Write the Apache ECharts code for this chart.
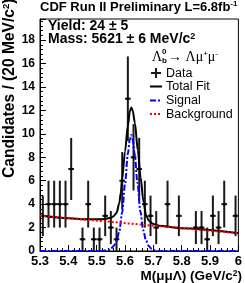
<!DOCTYPE html>
<html><head><meta charset="utf-8">
<script src="https://cdn.jsdelivr.net/npm/echarts@6/dist/echarts.min.js"></script>
<style>html,body{margin:0;padding:0;background:#fff}#c{width:245px;height:283px}</style>
</head><body><div id="c"></div>
<script>
// Data histogram: bin centers (20 MeV bins), counts and their errors
const binCenters = [5.31,5.33,5.35,5.37,5.39,5.41,5.43,5.45,5.47,5.49,5.51,5.53,5.55,5.57,5.59,5.61,5.63,5.65,5.67,5.69,5.71,5.73,5.75,5.77,5.79,5.81,5.83,5.85,5.87,5.89,5.91,5.93,5.95,5.97,5.99];
const counts     = [3,4,4,4,4,7,0,1,4,1,1,3,2,1,6,13,8,7,4,3,2,0,4,0,3,0,0,2,2,1,3,2,4,0,3];
const countErrs  = [1.73,2,2,2,2,2.65,0,1,2,1,1,1.73,1.41,1,2.45,3.61,2.83,2.65,2,1.73,1.41,0,2,0,1.73,0,0,1.41,1.41,1,1.73,1.41,2,0,1.73];
const halfBin = 0.01;

// Total fit curve
const totalMass = [5.30,5.40,5.46,5.50,5.53,5.55,5.56,5.57,5.58,5.585,5.59,5.60,5.61,5.617,5.622,5.627,5.635,5.645,5.655,5.665,5.675,5.685,5.70,5.72,5.80,6.00];
const totalVals = [3.02,2.80,2.70,2.70,2.74,2.84,2.97,3.25,4.1,5.0,6.2,8.5,10.7,11.9,12.25,12.0,10.9,8.6,6.3,4.2,3.0,2.55,2.3,2.15,1.95,1.52];

// Signal curve
const sigMass = [5.30,5.52,5.54,5.55,5.56,5.57,5.58,5.59,5.60,5.61,5.617,5.622,5.627,5.634,5.644,5.654,5.664,5.674,5.684,5.694,5.704,5.72,6.00];
const sigVals = [0,0,0.08,0.2,0.42,0.85,1.7,3.3,5.7,8.3,9.5,9.9,9.5,8.3,5.8,3.4,1.8,0.9,0.42,0.18,0.06,0,0];

// Background line
const bgMass = [5.30,6.00];
const bgVals = [3.02,1.52];

// Axis ticks
const xTickLabels = ['5.3','5.4','5.5','5.6','5.7','5.8','5.9','6'];
const yTickLabels = ['0','2','4','6','8','10','12','14','16','18'];

const zip = (a,b) => a.map((v,i)=>[v,b[i]]);
const dataPts = [];
binCenters.forEach((m,i)=>{ if(counts[i]>0) dataPts.push([m,counts[i],countErrs[i]]); });

const chart = echarts.init(document.getElementById('c'), null, {renderer:'canvas'});
const FONT = 'Liberation Sans';
const supRich = (fs, ss, lh) => ({
  t:{fontFamily:FONT,fontWeight:'bold',fontSize:fs,fill:'#000',lineHeight:lh},
  s:{fontFamily:FONT,fontWeight:'bold',fontSize:ss,fill:'#000',verticalAlign:'top',lineHeight:lh}
});
const option = {
  animation:false,
  grid:{left:40,right:3,top:19,bottom:32,show:true,borderColor:'#000',borderWidth:1},
  xAxis:{type:'value',min:5.3,max:6.0,interval:0.1,
    axisLine:{show:true,lineStyle:{color:'#000',width:1}},
    axisTick:{show:true,inside:true,length:6,lineStyle:{color:'#000'}},
    minorTick:{show:true,splitNumber:5,length:3,lineStyle:{color:'#000'}},
    splitLine:{show:false},
    axisLabel:{color:'#000',fontFamily:FONT,fontWeight:'bold',fontSize:13,margin:4,
      formatter:v=>{const i=Math.round((v-5.3)/0.1);return xTickLabels[i]!==undefined?xTickLabels[i]:'';}}
  },
  yAxis:{type:'value',min:0,max:19.8,interval:2,
    axisLine:{show:true,lineStyle:{color:'#000',width:1}},
    axisTick:{show:true,inside:true,length:6,lineStyle:{color:'#000'}},
    minorTick:{show:true,splitNumber:5,length:3,lineStyle:{color:'#000'}},
    splitLine:{show:false},
    axisLabel:{color:'#000',fontFamily:FONT,fontWeight:'bold',fontSize:12,margin:5,showMaxLabel:false,
      formatter:v=>{const i=Math.round(v/2);return (Math.abs(v-2*i)<1e-6 && yTickLabels[i]!==undefined)?yTickLabels[i]:'';}}
  },
  series:[
    {type:'custom',name:'Data',data:dataPts,clip:true,z:2,
      renderItem:(params,api)=>{
        const x=api.value(0),y=api.value(1),e=api.value(2);
        const c=api.coord([x,y]),t=api.coord([x,y+e]),b=api.coord([x,Math.max(0,y-e)]);
        const l=api.coord([x-halfBin,y]),r=api.coord([x+halfBin,y]);
        const st={stroke:'#1a1a1a',lineWidth:2};
        return {type:'group',children:[
          {type:'line',shape:{x1:c[0],y1:t[1],x2:c[0],y2:b[1]},style:st},
          {type:'line',shape:{x1:l[0],y1:c[1],x2:r[0],y2:c[1]},style:st},
          {type:'circle',shape:{cx:c[0],cy:c[1],r:1.5},style:{fill:'#000'}}
        ]};
      }},
    {type:'line',name:'Total Fit',data:zip(totalMass,totalVals),smooth:0.3,smoothMonotone:'x',showSymbol:false,z:3,
      lineStyle:{color:'#000',width:2}},
    {type:'line',name:'Signal',data:zip(sigMass,sigVals),smooth:0.3,smoothMonotone:'x',showSymbol:false,z:4,
      lineStyle:{color:'#0000ff',width:2,type:[6,2,2,2]}},
    {type:'line',name:'Background',data:zip(bgMass,bgVals),showSymbol:false,z:5,
      lineStyle:{color:'#ff0000',width:2,type:[2,2]}}
  ],
  graphic:[
    {type:'text',left:40,top:0,style:{text:'{t|CDF Run II Preliminary L=6.8fb}{s|-1}',rich:supRich(13,8,14)}},
    {type:'text',x:48,y:26.5,style:{text:'Yield: 24 ± 5',fontFamily:FONT,fontWeight:'bold',fontSize:14,fill:'#000',verticalAlign:'middle'}},
    {type:'text',x:48,y:39.5,style:{text:'{t|Mass: 5621 ± 6 MeV/c}{s|2}',verticalAlign:'middle',rich:supRich(14,9,15)}},
    // Y axis title
    {type:'text',x:10,y:178,rotation:Math.PI/2,style:{text:'{t|Candidates / (20 MeV/c}{s|2}{t|)}',verticalAlign:'middle',align:'left',rich:supRich(15.6,9.5,17)}},
    // X axis title
    {type:'text',x:242,y:276,style:{text:'{t|M(μμΛ) (GeV/c}{s|2}{t|)}',verticalAlign:'middle',align:'right',rich:supRich(13.5,8.5,14)}},
    // Legend header
    {type:'text',x:152,y:57,style:{text:'Λ',fontFamily:'Liberation Serif',fontSize:14,fill:'#000',verticalAlign:'middle'}},
    {type:'text',x:162,y:52,style:{text:'0',fontFamily:FONT,fontWeight:'bold',fontSize:8,fill:'#000',verticalAlign:'middle'}},
    {type:'text',x:162,y:61,style:{text:'b',fontFamily:FONT,fontWeight:'bold',fontSize:8,fill:'#000',verticalAlign:'middle'}},
    {type:'text',x:168,y:57,style:{text:'{a|→ Λμ}{s|+}{a|μ}{s|-}',verticalAlign:'middle',
      rich:{a:{fontFamily:'Liberation Serif',fontSize:14,fill:'#000',lineHeight:15},
            s:{fontFamily:FONT,fontSize:8,fill:'#000',verticalAlign:'top',lineHeight:15}}}},
    // Legend entries
    {type:'line',shape:{x1:156,y1:68,x2:156,y2:78},style:{stroke:'#1a1a1a',lineWidth:2}},
    {type:'line',shape:{x1:151,y1:73,x2:161,y2:73},style:{stroke:'#1a1a1a',lineWidth:2}},
    {type:'text',x:166,y:73.5,style:{text:'Data',fontFamily:FONT,fontSize:12.5,fill:'#000',verticalAlign:'middle'}},
    {type:'line',shape:{x1:150,y1:86.5,x2:162,y2:86.5},style:{stroke:'#000',lineWidth:2}},
    {type:'text',x:166,y:87,style:{text:'Total Fit',fontFamily:FONT,fontSize:12.5,fill:'#000',verticalAlign:'middle'}},
    {type:'line',shape:{x1:150,y1:100.5,x2:162,y2:100.5},style:{stroke:'#0000ff',lineWidth:2,lineDash:[6,2,2,2]}},
    {type:'text',x:166,y:101,style:{text:'Signal',fontFamily:FONT,fontSize:12.5,fill:'#000',verticalAlign:'middle'}},
    {type:'line',shape:{x1:150,y1:114,x2:162,y2:114},style:{stroke:'#ff0000',lineWidth:2,lineDash:[2,2]}},
    {type:'text',x:166,y:114.5,style:{text:'Background',fontFamily:FONT,fontSize:12.5,fill:'#000',verticalAlign:'middle'}}
  ]
};
chart.setOption(option);
</script></body></html>
